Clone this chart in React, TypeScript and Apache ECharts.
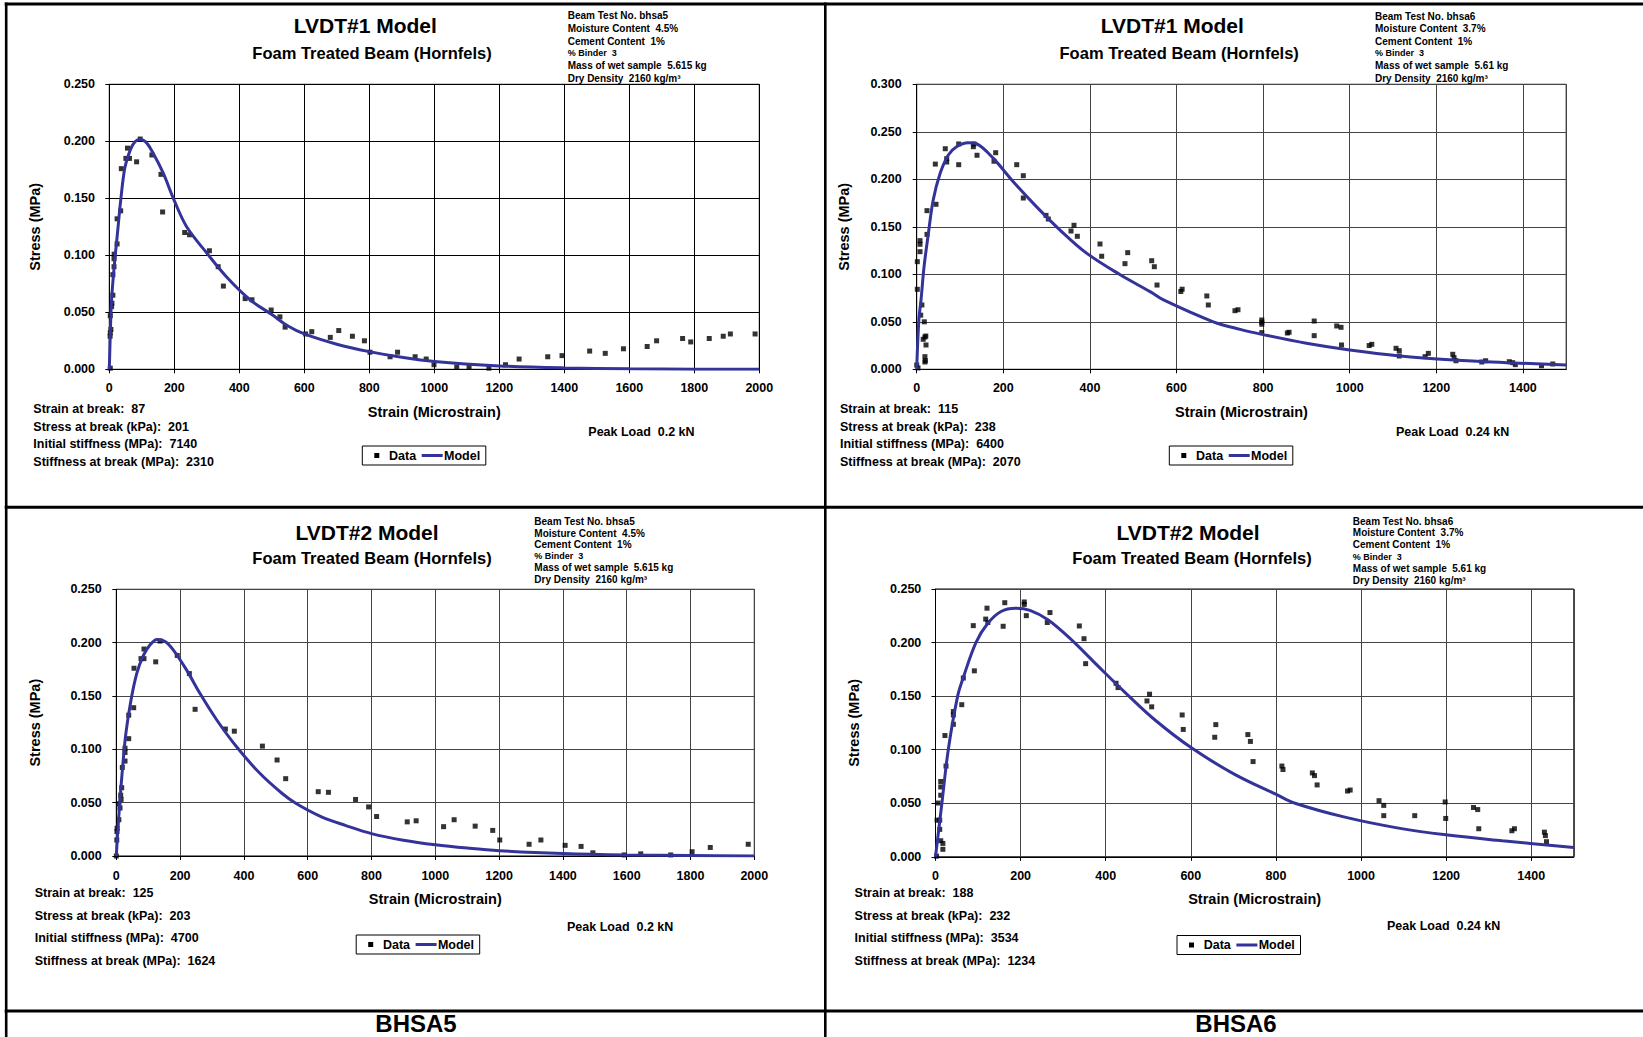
import React, { useEffect, useRef } from "react";
import * as echarts from "echarts";

const FONT = '"Liberation Sans", Arial, Helvetica, sans-serif';
const MODEL_COLOR = "#333399";

// ---------------- data: [strain (microstrain), stress (MPa)] ----------------
const bhsa5Lvdt1Data = [
  [3, 0.001], [2.5, 0.029], [3, 0.032], [5, 0.035], [3, 0.047], [7, 0.055], [8, 0.058], [11, 0.065],
  [11, 0.083], [14.5, 0.09], [14.5, 0.097], [15, 0.101], [24, 0.11], [24, 0.132], [35, 0.139], [37, 0.176],
  [51, 0.185], [56, 0.194], [62, 0.185], [84, 0.182], [95, 0.202], [131, 0.188], [159, 0.171], [164, 0.138],
  [232, 0.12], [247, 0.118], [308, 0.104], [335, 0.09], [351, 0.073], [418, 0.062], [439, 0.061], [498, 0.052],
  [525, 0.046], [541, 0.037], [604, 0.031], [623, 0.033], [680, 0.028], [706, 0.034], [748, 0.029], [785, 0.025],
  [802, 0.015], [864, 0.011], [887, 0.015], [941, 0.011], [975, 0.009], [999, 0.004], [1069, 0.002], [1107, 0.002],
  [1168, 0.001], [1219, 0.004], [1261, 0.009], [1349, 0.011], [1393, 0.012], [1478, 0.016], [1526, 0.014],
  [1582, 0.018], [1655, 0.02], [1684, 0.025], [1764, 0.027], [1789, 0.024], [1846, 0.027], [1889, 0.029],
  [1911, 0.031], [1987, 0.031],
];
const bhsa5Lvdt1Model = [
  [0, 0], [4, 0.04], [7, 0.061], [15, 0.09], [25, 0.119], [35, 0.148], [48, 0.177], [64, 0.192], [79, 0.1995],
  [94, 0.2015], [112, 0.1995], [135, 0.1895], [166, 0.172], [197, 0.15], [238, 0.125], [300, 0.102], [361, 0.081],
  [433, 0.061], [500, 0.048], [550, 0.038], [600, 0.031], [700, 0.022], [800, 0.0155], [900, 0.0105],
  [1000, 0.0068], [1200, 0.003], [1400, 0.0012], [1600, 0.0004], [1800, 0.0001], [2000, 0],
];

const bhsa6Lvdt1Data = [
  [0, 0.0045], [3, 0.0014], [19, 0.0077], [20, 0.009], [19, 0.0133], [21.5, 0.0256], [15, 0.0316], [19, 0.034],
  [21, 0.035], [17.6, 0.05], [9.2, 0.057], [12, 0.0677], [1.4, 0.0842], [1.4, 0.1133], [7.6, 0.1238],
  [7.6, 0.1316], [7.6, 0.1354], [23.8, 0.142], [23.8, 0.167], [43, 0.216], [44.6, 0.1737], [66, 0.2322],
  [69.3, 0.2217], [69.3, 0.2182], [97, 0.2372], [97, 0.2154], [130.8, 0.2343], [132.3, 0.2372], [139.3, 0.2253],
  [178.5, 0.219], [182.4, 0.228], [231, 0.2154], [246.2, 0.2038], [246.2, 0.1803], [298.6, 0.162], [304, 0.1582],
  [356.4, 0.1456], [363.3, 0.1516], [371, 0.14], [423.3, 0.1319], [427.2, 0.119], [481, 0.1112], [487.3, 0.1228],
  [542.7, 0.1143], [548.8, 0.108], [555, 0.0887], [610, 0.0819], [613, 0.0843], [670, 0.0772], [673.5, 0.0677],
  [735, 0.0617], [742, 0.0627], [797, 0.0519], [797, 0.0496], [797, 0.0474], [797, 0.0386], [856, 0.0382],
  [860, 0.039], [918, 0.0508], [918, 0.0354], [970, 0.0456], [980, 0.0442], [981, 0.0256], [1045, 0.025],
  [1051, 0.0263], [1107, 0.0221], [1114.5, 0.0196], [1114.5, 0.014], [1174, 0.0133], [1181.6, 0.0168],
  [1238, 0.0158], [1241, 0.0122], [1245.5, 0.009], [1305, 0.0077], [1314, 0.009], [1368.6, 0.008],
  [1376.4, 0.007], [1382.5, 0.0049], [1443, 0.0038], [1469, 0.0056],
];
const bhsa6Lvdt1Model = [
  [0, 0], [5, 0.052], [10, 0.073], [17, 0.108], [27, 0.143], [38, 0.178], [54, 0.206], [73, 0.2256],
  [92, 0.2343], [119, 0.2385], [139, 0.2372], [177, 0.222], [223, 0.1975], [277, 0.171], [331, 0.1466],
  [393, 0.122], [470, 0.0995], [540, 0.0815], [570, 0.073], [685, 0.05], [747, 0.042], [800, 0.0365],
  [900, 0.0274], [1000, 0.0203], [1116, 0.014], [1239, 0.0098], [1363, 0.007], [1500, 0.0045],
];

const bhsa5Lvdt2Data = [
  [0, 0], [1.5, 0.015], [2, 0.023], [2.5, 0.026], [8, 0.034], [11.6, 0.045], [8, 0.049], [13.8, 0.057],
  [15, 0.053], [16.9, 0.064], [18.8, 0.083], [27.3, 0.089], [27.3, 0.097], [27.3, 0.101], [38.9, 0.11],
  [38.9, 0.132], [54.5, 0.139], [55.5, 0.176], [77.4, 0.185], [86.8, 0.185], [86.8, 0.194], [123.5, 0.182],
  [137, 0.2015], [191, 0.188], [229, 0.171], [247, 0.1375], [342, 0.119], [370, 0.117], [458, 0.103],
  [504, 0.09], [531, 0.0725], [633, 0.0603], [665, 0.0597], [750, 0.053], [791, 0.046], [816, 0.037],
  [912, 0.032], [940, 0.033], [1026, 0.0275], [1059, 0.034], [1125, 0.028], [1180, 0.024], [1202, 0.015],
  [1294, 0.011], [1331, 0.015], [1407, 0.01], [1457, 0.009], [1494, 0.003], [1592, 0.001], [1644, 0.002],
  [1738, 0.001], [1805, 0.004], [1862, 0.008], [1981, 0.011],
];
const bhsa5Lvdt2Model = [
  [0, 0], [5, 0.025], [11.6, 0.0525], [20, 0.084], [30, 0.115], [46, 0.146], [64, 0.171], [85, 0.188],
  [106, 0.198], [128, 0.203], [153, 0.201], [179, 0.193], [221, 0.174], [262, 0.1525], [315, 0.1275],
  [377, 0.1024], [450, 0.0775], [520, 0.0586], [565, 0.049], [645, 0.0365], [720, 0.0285], [800, 0.021],
  [900, 0.0148], [1000, 0.0105], [1100, 0.0074], [1200, 0.005], [1400, 0.0024], [1600, 0.001],
  [1800, 0.0004], [2000, 0.0001],
];

const bhsa6Lvdt2Data = [
  [2.5, 0.0006], [17.3, 0.007], [17.3, 0.0125], [12.3, 0.015], [9.9, 0.0256], [3.7, 0.0342], [9.9, 0.0342],
  [6.2, 0.0502], [12.3, 0.0575], [12.3, 0.0652], [12.3, 0.0703], [24.7, 0.0847], [22.2, 0.1132], [42, 0.1237],
  [42, 0.1324], [42, 0.1356], [61.7, 0.142], [65.4, 0.1669], [91.3, 0.1736], [88.8, 0.2158], [118, 0.2219],
  [123, 0.2187], [121, 0.2321], [159, 0.2152], [162.8, 0.2372], [208.5, 0.2379], [208.5, 0.2356],
  [213.4, 0.2251], [262.7, 0.2187], [269, 0.228], [338, 0.2155], [349, 0.2036], [352.8, 0.1803], [424.3, 0.162],
  [429, 0.158], [497, 0.1455], [503, 0.1518], [508, 0.14], [579.7, 0.1324], [582.2, 0.1189], [656.2, 0.1116],
  [658.7, 0.1234], [734, 0.1141], [740, 0.1077], [746.3, 0.0889], [814, 0.0847], [816.6, 0.0815],
  [885.6, 0.0783], [890.6, 0.0758], [896.8, 0.0671], [968.3, 0.0614], [974.5, 0.0623], [1042.3, 0.0524],
  [1053.4, 0.048], [1053.4, 0.0384], [1126.2, 0.0384], [1197.7, 0.0512], [1199, 0.0358], [1264.3, 0.046],
  [1274.2, 0.0441], [1276.7, 0.0262], [1354.4, 0.0243], [1360.5, 0.0262], [1430.9, 0.023], [1433.3, 0.0198],
  [1435.8, 0.0141],
];
const bhsa6Lvdt2Model = [
  [0, 0], [15, 0.05], [30, 0.1], [52, 0.15], [65, 0.167], [95, 0.2], [123, 0.218], [154, 0.229], [188, 0.232],
  [222, 0.23], [265, 0.221], [321, 0.202], [382, 0.178], [444, 0.154], [518, 0.127], [604, 0.101],
  [703, 0.077], [802, 0.058], [845, 0.05], [962, 0.037], [1085, 0.027], [1199, 0.0205], [1332, 0.015],
  [1500, 0.0086],
];

// ---------------- texts ----------------
const chartTitles = ["LVDT#1 Model", "LVDT#1 Model", "LVDT#2 Model", "LVDT#2 Model"];
const chartSubtitle = "Foam Treated Beam (Hornfels)";
const xAxisName = "Strain (Microstrain)";
const yAxisName = "Stress (MPa)";
const infoBhsa5 = [
  "Beam Test No. bhsa5", "Moisture Content  4.5%", "Cement Content  1%", "% Binder  3",
  "Mass of wet sample  5.615 kg", "Dry Density  2160 kg/m³",
];
const infoBhsa6 = [
  "Beam Test No. bhsa6", "Moisture Content  3.7%", "Cement Content  1%", "% Binder  3",
  "Mass of wet sample  5.61 kg", "Dry Density  2160 kg/m³",
];
const statsBhsa5Lvdt1 = ["Strain at break:  87", "Stress at break (kPa):  201", "Initial stiffness (MPa):  7140", "Stiffness at break (MPa):  2310"];
const statsBhsa6Lvdt1 = ["Strain at break:  115", "Stress at break (kPa):  238", "Initial stiffness (MPa):  6400", "Stiffness at break (MPa):  2070"];
const statsBhsa5Lvdt2 = ["Strain at break:  125", "Stress at break (kPa):  203", "Initial stiffness (MPa):  4700", "Stiffness at break (MPa):  1624"];
const statsBhsa6Lvdt2 = ["Strain at break:  188", "Stress at break (kPa):  232", "Initial stiffness (MPa):  3534", "Stiffness at break (MPa):  1234"];
const peakLoads = ["Peak Load  0.2 kN", "Peak Load  0.24 kN", "Peak Load  0.2 kN", "Peak Load  0.24 kN"];
const beamLabels = ["BHSA5", "BHSA6"];
const legendNames = ["Data", "Model"];

// ---------------- layout ----------------
const panels = [
  {
    data: bhsa5Lvdt1Data, model: bhsa5Lvdt1Model, info: infoBhsa5, stats: statsBhsa5Lvdt1,
    grid: { left: 109.3, top: 84.3, width: 650, height: 285 }, xMax: 2000, yMax: 0.25,
    xLabelMargin: 12.5, yLabelMargin: 14.3, xNameGap: 35.5, yNameGap: 67, gridColor: "#000",
    titleC: [365.3, 25.8], subC: [372, 52.5],
    infoX: 567.7, infoY: [15.5, 28.5, 41, 53, 65.5, 78],
    statsX: 33.3, statsY: [409.3, 426.7, 444, 461.7],
    peak: [588.3, 431.7], legend: [362.3, 446],
  },
  {
    data: bhsa6Lvdt1Data, model: bhsa6Lvdt1Model, info: infoBhsa6, stats: statsBhsa6Lvdt1,
    grid: { left: 916.7, top: 84.3, width: 649.5, height: 285 }, xMax: 1500, yMax: 0.3,
    xLabelMargin: 12.5, yLabelMargin: 15, xNameGap: 35.4, yNameGap: 65, gridColor: "#444",
    titleC: [1172.3, 25.8], subC: [1179.2, 52.5],
    infoX: 1375, infoY: [16, 28.5, 41, 53.3, 65.7, 78.3],
    statsX: 840, statsY: [409.3, 426.7, 444, 461.7],
    peak: [1396, 431.7], legend: [1169.3, 446],
  },
  {
    data: bhsa5Lvdt2Data, model: bhsa5Lvdt2Model, info: infoBhsa5, stats: statsBhsa5Lvdt2,
    grid: { left: 116.3, top: 589.3, width: 638, height: 266.7 }, xMax: 2000, yMax: 0.25,
    xLabelMargin: 13.5, yLabelMargin: 14.6, xNameGap: 35.7, yNameGap: 74, gridColor: "#444",
    titleC: [367, 532.2], subC: [372, 557.5],
    infoX: 534.3, infoY: [521.5, 533, 544.5, 556, 567, 579],
    statsX: 34.7, statsY: [893, 915.5, 938, 960.5],
    peak: [567, 926.7], legend: [356.2, 935],
  },
  {
    data: bhsa6Lvdt2Data, model: bhsa6Lvdt2Model, info: infoBhsa6, stats: statsBhsa6Lvdt2,
    grid: { left: 935.5, top: 589, width: 638.3, height: 267.8 }, xMax: 1500, yMax: 0.25,
    xLabelMargin: 12.5, yLabelMargin: 14.2, xNameGap: 35, yNameGap: 74, gridColor: "#444",
    titleC: [1188, 532.5], subC: [1192, 557.5],
    infoX: 1352.8, infoY: [521, 532.5, 544.5, 556.5, 568, 580.5],
    statsX: 854.6, statsY: [893, 915.5, 938, 960.5],
    peak: [1387, 926], legend: [1177, 935.5],
  },
];

function txt(x: number, y: number, text: string, size: number, align = "left") {
  return {
    type: "text",
    x,
    y,
    silent: true,
    style: {
      text,
      fill: "#000",
      fontSize: size,
      fontWeight: "bold",
      fontFamily: FONT,
      align,
      verticalAlign: "middle",
      textAlign: align,
      textVerticalAlign: "middle",
    },
  };
}

function hline(x1: number, x2: number, y: number, w: number) {
  return { type: "line", silent: true, shape: { x1, y1: y, x2, y2: y }, style: { stroke: "#000", lineWidth: w } };
}
function vline(x: number, y1: number, y2: number, w: number) {
  return { type: "line", silent: true, shape: { x1: x, y1, x2: x, y2 }, style: { stroke: "#000", lineWidth: w } };
}

function legendGroup(x: number, y: number) {
  const h = 19;
  return {
    type: "group",
    x,
    y,
    children: [
      { type: "rect", shape: { x: 0, y: 0, width: 123.5, height: h }, style: { fill: "#fff", stroke: "#000", lineWidth: 1 } },
      { type: "rect", shape: { x: 12, y: h / 2 - 2.5, width: 5, height: 5 }, style: { fill: "#000" } },
      txt(26.7, h / 2, legendNames[0], 12.5),
      { type: "line", shape: { x1: 59.4, y1: h / 2, x2: 80.4, y2: h / 2 }, style: { stroke: MODEL_COLOR, lineWidth: 3 } },
      txt(81.7, h / 2, legendNames[1], 12.5),
    ],
  };
}

function buildOption() {
  const titles: any[] = [];
  const grids: any[] = [];
  const xAxes: any[] = [];
  const yAxes: any[] = [];
  const series: any[] = [];
  const graphics: any[] = [];

  panels.forEach((p, i) => {
    titles.push({
      text: chartTitles[i],
      left: p.titleC[0],
      top: p.titleC[1] - 12,
      textAlign: "center",
      padding: 0,
      textStyle: { fontSize: 21, fontWeight: "bold", fontFamily: FONT, color: "#000", lineHeight: 24 },
    });
    titles.push({
      text: chartSubtitle,
      left: p.subC[0],
      top: p.subC[1] - 9,
      textAlign: "center",
      padding: 0,
      textStyle: { fontSize: 16.5, fontWeight: "bold", fontFamily: FONT, color: "#000", lineHeight: 18 },
    });
    grids.push({ ...p.grid, show: true, borderColor: "#000", borderWidth: 1, backgroundColor: "transparent" });
    const labelStyle = { fontSize: 12.5, fontWeight: "bold", fontFamily: FONT, color: "#000" };
    const nameStyle = { fontSize: 14.5, fontWeight: "bold", fontFamily: FONT, color: "#000" };
    xAxes.push({
      type: "value",
      gridIndex: i,
      min: 0,
      max: p.xMax,
      interval: 200,
      name: xAxisName,
      nameLocation: "middle",
      nameGap: p.xNameGap,
      nameTextStyle: nameStyle,
      axisLine: { show: true, onZero: false, lineStyle: { color: "#000", width: 1 } },
      axisTick: { show: true, length: 4, lineStyle: { color: "#000" } },
      axisLabel: {
        ...labelStyle,
        margin: p.xLabelMargin,
        showMaxLabel: p.xMax === 2000,
        formatter: (v: number) => String(Math.round(v)),
      },
      splitLine: { show: true, lineStyle: { color: p.gridColor, width: 1 } },
    });
    yAxes.push({
      type: "value",
      gridIndex: i,
      min: 0,
      max: p.yMax,
      interval: 0.05,
      name: yAxisName,
      nameLocation: "middle",
      nameGap: p.yNameGap,
      nameTextStyle: nameStyle,
      axisLine: { show: true, onZero: false, lineStyle: { color: "#000", width: 1 } },
      axisTick: { show: true, length: 4, lineStyle: { color: "#000" } },
      axisLabel: { ...labelStyle, margin: p.yLabelMargin, formatter: (v: number) => v.toFixed(3) },
      splitLine: { show: true, lineStyle: { color: p.gridColor, width: 1 } },
    });
    series.push({
      name: legendNames[0],
      type: "scatter",
      xAxisIndex: i,
      yAxisIndex: i,
      data: p.data,
      symbol: "rect",
      symbolSize: 5,
      itemStyle: { color: "#000" },
      z: 3,
    });
    series.push({
      name: legendNames[1],
      type: "line",
      xAxisIndex: i,
      yAxisIndex: i,
      data: p.model,
      symbol: "none",
      showSymbol: false,
      smooth: 0.35,
      lineStyle: { color: MODEL_COLOR, width: 3 },
      z: 4,
    });

    p.info.forEach((line, k) => {
      graphics.push(txt(p.infoX, p.infoY[k], line, k === 3 ? 9 : 10));
    });
    p.stats.forEach((line, k) => {
      graphics.push(txt(p.statsX, p.statsY[k], line, 12.5));
    });
    graphics.push(txt(p.peak[0], p.peak[1], peakLoads[i], 12.5));
    graphics.push(legendGroup(p.legend[0], p.legend[1]));
  });

  // frame lines
  graphics.push(hline(4.7, 1643, 4, 3));
  graphics.push(vline(6.2, 2.5, 1037, 2.6));
  graphics.push(vline(825.3, 2.5, 1037, 2.6));
  graphics.push(hline(4.7, 1643, 507.3, 3));
  graphics.push(hline(4.7, 1643, 1011, 3));
  graphics.push(txt(416, 1023.5, beamLabels[0], 24, "center"));
  graphics.push(txt(1236, 1023.5, beamLabels[1], 24, "center"));

  return {
    animation: false,
    backgroundColor: "#fff",
    title: titles,
    grid: grids,
    xAxis: xAxes,
    yAxis: yAxes,
    series,
    graphic: graphics,
  };
}

export default function App() {
  const ref = useRef<HTMLDivElement>(null);
  useEffect(() => {
    if (!ref.current) return;
    const chart = echarts.init(ref.current, null, { renderer: "svg" });
    chart.setOption(buildOption() as any);
    return () => chart.dispose();
  }, []);
  return (
    <div
      ref={ref}
      style={{ position: "fixed", left: 0, top: 0, width: 1643, height: 1037, background: "#fff" }}
    />
  );
}
